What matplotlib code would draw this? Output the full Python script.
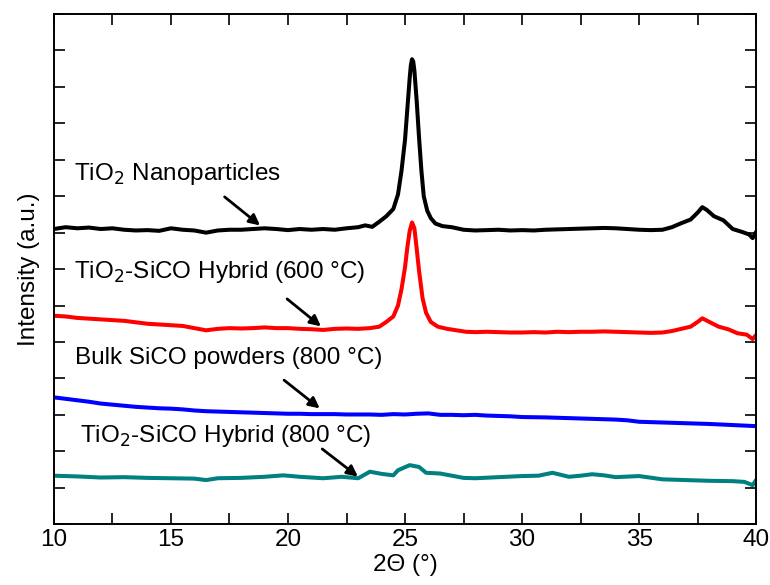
import matplotlib
matplotlib.use("Agg")
import matplotlib.pyplot as plt
from matplotlib.ticker import MultipleLocator

plt.rcParams['font.family'] = ['Liberation Sans', 'DejaVu Sans']

# TiO2 nanoparticles (black)
x_nano = [10.0, 10.5, 11.0, 11.5, 12.0, 12.5, 13.0, 13.5, 14.0, 14.5, 15.0, 15.5, 16.0, 16.5,
          17.0, 17.5, 18.0, 18.5, 19.0, 19.5, 20.0, 20.5, 21.0, 21.5, 22.0, 22.5, 23.0, 23.3,
          23.6, 23.9, 24.2, 24.5, 24.7, 24.85, 25.0, 25.1, 25.2, 25.25, 25.3, 25.35, 25.4, 25.5,
          25.6, 25.7, 25.8, 25.95, 26.1, 26.3, 26.6, 27.0, 27.5, 28.0, 28.5, 29.0, 29.5, 30.0,
          30.5, 31.0, 31.5, 32.0, 32.5, 33.0, 33.5, 34.0, 34.5, 35.0, 35.5, 36.0, 36.4, 36.8,
          37.2, 37.5, 37.7, 37.9, 38.2, 38.6, 39.0, 39.4, 39.7, 39.85, 40.0]
y_nano = [8.10, 8.15, 8.12, 8.14, 8.10, 8.12, 8.08, 8.06, 8.07, 8.05, 8.12, 8.08, 8.06, 8.00,
          8.06, 8.08, 8.08, 8.10, 8.12, 8.10, 8.07, 8.10, 8.08, 8.10, 8.08, 8.12, 8.15, 8.20,
          8.16, 8.30, 8.45, 8.65, 9.05, 9.70, 10.55, 11.40, 12.25, 12.60, 12.76, 12.70, 12.45, 11.60,
          10.60, 9.70, 9.00, 8.60, 8.40, 8.25, 8.18, 8.15, 8.08, 8.06, 8.07, 8.08, 8.06, 8.07,
          8.06, 8.08, 8.09, 8.10, 8.11, 8.12, 8.13, 8.12, 8.10, 8.08, 8.07, 8.08, 8.15, 8.26,
          8.36, 8.55, 8.70, 8.62, 8.45, 8.34, 8.10, 8.02, 7.95, 7.85, 8.02]

# TiO2-SiCO hybrid 600 C (red)
x_h600 = [10.0, 10.5, 11.0, 11.5, 12.0, 12.5, 13.0, 13.5, 14.0, 14.5, 15.0, 15.5, 16.0, 16.5,
          17.0, 17.5, 18.0, 18.5, 19.0, 19.5, 20.0, 20.5, 21.0, 21.5, 22.0, 22.5, 23.0, 23.5,
          23.9, 24.2, 24.5, 24.7, 24.85, 25.0, 25.1, 25.2, 25.3, 25.4, 25.5, 25.6, 25.75, 25.9,
          26.1, 26.4, 26.8, 27.2, 27.6, 28.0, 28.5, 29.0, 29.5, 30.0, 30.5, 31.0, 31.5, 32.0,
          32.5, 33.0, 33.5, 34.0, 34.5, 35.0, 35.5, 36.0, 36.4, 36.8, 37.2, 37.5, 37.7, 38.0,
          38.4, 38.8, 39.2, 39.6, 39.85, 40.0]
y_h600 = [5.72, 5.70, 5.66, 5.64, 5.62, 5.60, 5.58, 5.54, 5.50, 5.48, 5.46, 5.44, 5.38, 5.32,
          5.36, 5.38, 5.37, 5.38, 5.40, 5.38, 5.38, 5.36, 5.35, 5.33, 5.36, 5.37, 5.36, 5.38,
          5.42, 5.55, 5.70, 6.00, 6.45, 7.05, 7.60, 8.05, 8.28, 8.12, 7.55, 6.95, 6.20, 5.80,
          5.55, 5.42, 5.36, 5.32, 5.28, 5.27, 5.28, 5.27, 5.26, 5.26, 5.27, 5.26, 5.28, 5.27,
          5.28, 5.28, 5.29, 5.28, 5.27, 5.26, 5.25, 5.26, 5.30, 5.36, 5.42, 5.55, 5.65, 5.55,
          5.42, 5.35, 5.24, 5.20, 5.08, 5.19]

# bulk SiCO powders 800 C (blue)
x_bulk = [10.0, 10.5, 11.0, 11.5, 12.0, 12.5, 13.0, 13.5, 14.0, 14.5, 15.0, 15.5, 16.0, 16.5,
          17.0, 17.5, 18.0, 18.5, 19.0, 19.5, 20.0, 20.5, 21.0, 21.5, 22.0, 22.5, 23.0, 23.5,
          24.0, 24.5, 25.0, 25.5, 26.0, 26.5, 27.0, 27.5, 28.0, 28.5, 29.0, 29.5, 30.0, 31.0,
          32.0, 33.0, 34.0, 34.5, 35.0, 36.0, 37.0, 38.0, 39.0, 40.0]
y_bulk = [3.48, 3.44, 3.40, 3.36, 3.31, 3.28, 3.25, 3.22, 3.20, 3.18, 3.17, 3.15, 3.12, 3.10,
          3.09, 3.08, 3.07, 3.06, 3.05, 3.04, 3.03, 3.03, 3.02, 3.02, 3.02, 3.01, 3.01, 3.01,
          3.00, 3.02, 3.01, 3.03, 3.04, 3.00, 3.00, 2.99, 3.00, 2.98, 2.97, 2.96, 2.94, 2.93,
          2.91, 2.89, 2.87, 2.85, 2.81, 2.79, 2.77, 2.75, 2.72, 2.69]

# TiO2-SiCO hybrid 800 C (teal)
x_h800 = [10.0, 11.0, 12.0, 13.0, 14.0, 15.0, 16.0, 16.5, 17.0, 18.0, 19.0, 19.8, 20.5, 21.5,
          22.3, 23.0, 23.5, 24.0, 24.5, 24.7, 25.2, 25.6, 25.9, 26.5, 27.0, 27.5, 28.0, 29.0,
          30.0, 30.7, 31.3, 32.0, 32.5, 33.0, 33.5, 34.0, 35.0, 36.0, 37.0, 38.0, 39.0, 39.5,
          39.85, 40.0]
y_h800 = [1.33, 1.31, 1.28, 1.29, 1.27, 1.26, 1.25, 1.21, 1.26, 1.27, 1.30, 1.34, 1.30, 1.26,
          1.30, 1.26, 1.44, 1.38, 1.34, 1.48, 1.62, 1.57, 1.41, 1.39, 1.33, 1.27, 1.26, 1.29,
          1.32, 1.33, 1.41, 1.30, 1.33, 1.37, 1.34, 1.29, 1.32, 1.23, 1.21, 1.19, 1.18, 1.16,
          1.07, 1.21]

fig, ax = plt.subplots(figsize=(7.7, 5.85), dpi=100)
fig.subplots_adjust(left=0.070, right=0.982, top=0.976, bottom=0.104)

lw = 2.9
ax.plot(x_nano, y_nano, color='black', lw=lw, solid_joinstyle='round')
ax.plot(x_h600, y_h600, color='#ff0000', lw=lw, solid_joinstyle='round')
ax.plot(x_bulk, y_bulk, color='#0000ff', lw=lw, solid_joinstyle='round')
ax.plot(x_h800, y_h800, color='#008080', lw=lw, solid_joinstyle='round')

fs = 17.5
ax.text(10.85, 9.44, 'TiO$_2$ Nanoparticles', fontsize=fs)
ax.text(10.85, 6.75, 'TiO$_2$-SiCO Hybrid (600 \u00b0C)', fontsize=fs)
ax.text(10.9, 4.39, 'Bulk SiCO powders (800 \u00b0C)', fontsize=fs)
ax.text(11.1, 2.26, 'TiO$_2$-SiCO Hybrid (800 \u00b0C)', fontsize=fs)

arrow = dict(arrowstyle='-|>', color='black', lw=2, mutation_scale=16)
ax.annotate('', xy=(18.9, 8.15), xytext=(17.2, 9.03), arrowprops=arrow)
ax.annotate('', xy=(21.5, 5.38), xytext=(19.87, 6.23), arrowprops=arrow)
ax.annotate('', xy=(21.45, 3.13), xytext=(19.74, 4.0), arrowprops=arrow)
ax.annotate('', xy=(23.08, 1.26), xytext=(21.37, 2.11), arrowprops=arrow)

ax.set_xlim(10, 40)
ax.set_ylim(0, 14)
ax.xaxis.set_major_locator(MultipleLocator(5))
ax.xaxis.set_minor_locator(MultipleLocator(2.5))
ax.yaxis.set_major_locator(MultipleLocator(1))
ax.tick_params(which='both', direction='in', top=True, right=True, length=8, width=1.2,
               labelsize=fs)
ax.tick_params(axis='y', labelleft=False)
for s in ax.spines.values():
    s.set_linewidth(1.4)

ax.set_xlabel('2\u0398 (\u00b0)', fontsize=fs, labelpad=2)
ax.set_ylabel('Intensity (a.u.)', fontsize=fs, labelpad=10)

fig.savefig('out.png')
